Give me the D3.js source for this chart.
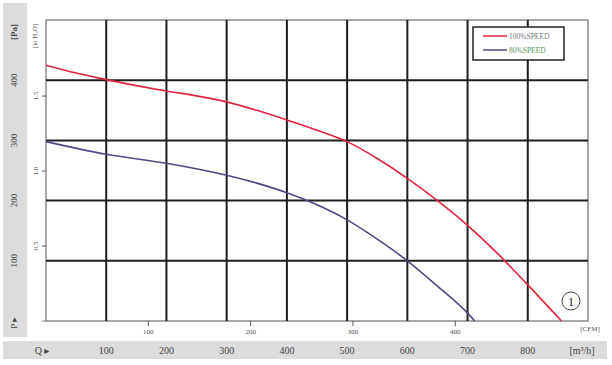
<!DOCTYPE html>
<html><head><meta charset="utf-8">
<script src="https://cdn.jsdelivr.net/npm/d3@7"></script>
<style>body{margin:0;background:#fff}svg{display:block}text{font-family:"Liberation Serif","DejaVu Serif",serif}</style>
</head><body><svg id="c" width="612" height="365"></svg>
<script>
const qTicks = [100,200,300,400,500,600,700,800];
const pTicks = [100,200,300,400];
const cfmTicks = [100,200,300,400];
const inchTicks = [0.5,1.0,1.5];
const q100 = [0,50,100,150,200,250,300,350,400,450,500,550,600,650,700,750,800,856];
const p100 = [425,412,401,391,382,374,364,350,334,317,298,270,237,200,159,112,60,0];
const q80 = [0,100,200,300,350,400,450,500,550,600,650,700,712];
const p80 = [298,277,262,242,229,213,193,168,136,100,58,13,0];
const seriesNames = ["100%SPEED","80%SPEED"];

const svg = d3.select("#c");
const x = d3.scaleLinear().domain([0,900]).range([46,588]);
const y = d3.scaleLinear().domain([0,500]).range([321,20]);
const M3H_PER_CFM = 1.699, PA_PER_INH2O = 249.1;

// gray bands
svg.append("rect").attr("x",3).attr("y",3).attr("width",24).attr("height",334).attr("fill","#dcdcdc");
svg.append("rect").attr("x",3).attr("y",341).attr("width",604).attr("height",18).attr("fill","#dcdcdc");

// plot border
svg.append("rect").attr("x",x(0)).attr("y",y(500)).attr("width",x(900)-x(0)).attr("height",y(0)-y(500))
  .attr("fill","#fff").attr("stroke","#8a8a8a").attr("stroke-width",1.5);

// grid
const g = svg.append("g");
g.selectAll(".vg").data(qTicks).join("line").attr("x1",d=>x(d)).attr("x2",d=>x(d)).attr("y1",y(500)).attr("y2",y(0))
  .attr("stroke","#1e1e1e").attr("stroke-width",2);
g.selectAll(".hg").data(pTicks).join("line").attr("y1",d=>y(d)).attr("y2",d=>y(d)).attr("x1",x(0)).attr("x2",x(900))
  .attr("stroke","#1e1e1e").attr("stroke-width",2);

// curves
const line = d3.line().x(d=>x(d[0])).y(d=>y(d[1])).curve(d3.curveMonotoneX);
svg.append("path").datum(q100.map((q,i)=>[q,p100[i]])).attr("d",line).attr("fill","none").attr("stroke","#e0243f").attr("stroke-width",1.6);
svg.append("path").datum(q80.map((q,i)=>[q,p80[i]])).attr("d",line).attr("fill","none").attr("stroke","#4d4a86").attr("stroke-width",1.6);

// Pa labels (rotated) in left band
const lab = svg.append("g").attr("font-size",9).attr("fill","#444");
pTicks.forEach(p=>{
  lab.append("text").attr("transform",`translate(17,${y(p)}) rotate(-90)`).attr("text-anchor","middle").text(p);
});
lab.append("text").attr("transform",`translate(17,32) rotate(-90)`).attr("text-anchor","middle").attr("font-weight","bold").text("[Pa]");
lab.append("text").attr("transform",`translate(17,323) rotate(-90)`).attr("text-anchor","middle").text("P ▸");

// inch H2O axis
const il = svg.append("g").attr("font-size",7).attr("fill","#555");
inchTicks.forEach(v=>{
  const yy = y(v*PA_PER_INH2O);
  il.append("line").attr("x1",42).attr("x2",46).attr("y1",yy).attr("y2",yy).attr("stroke","#555");
  il.append("text").attr("transform",`translate(38,${yy}) rotate(-90)`).attr("text-anchor","middle").text(d3.format(".1f")(v));
});
il.append("text").attr("transform",`translate(37,36) rotate(-90)`).attr("text-anchor","middle").text("[in H₂O]");
il.append("line").attr("x1",42).attr("x2",46).attr("y1",321).attr("y2",321).attr("stroke","#777");

// CFM axis
const cl = svg.append("g").attr("font-size",7).attr("fill","#555");
cfmTicks.forEach(v=>{
  const xx = x(v*M3H_PER_CFM);
  cl.append("line").attr("x1",xx).attr("x2",xx).attr("y1",321).attr("y2",326).attr("stroke","#555");
  cl.append("text").attr("x",xx).attr("y",334).attr("text-anchor","middle").text(v);
});
cl.append("text").attr("x",590).attr("y",331).attr("text-anchor","middle").text("[CFM]");

// Q labels bottom band
const ql = svg.append("g").attr("font-size",10).attr("fill","#444");
qTicks.forEach(v=>{
  ql.append("text").attr("x",x(v)).attr("y",354).attr("text-anchor","middle").text(v);
});
ql.append("text").attr("x",42).attr("y",354).attr("text-anchor","middle").text("Q ▸");
ql.append("text").attr("x",582).attr("y",354).attr("text-anchor","middle").text("[m³/h]");

// legend
const lg = svg.append("g");
lg.append("rect").attr("x",473).attr("y",27).attr("width",91).attr("height",33).attr("fill","#fff").attr("stroke","#222").attr("stroke-width",1.5);
const lc = ["#e0243f","#4d4a86"], tc = ["#777","#5e9a5e"];
seriesNames.forEach((n,i)=>{
  const yy = 36 + i*14;
  lg.append("line").attr("x1",483).attr("x2",507).attr("y1",yy).attr("y2",yy).attr("stroke",lc[i]).attr("stroke-width",1.5);
  lg.append("text").attr("x",509).attr("y",yy+2.5).attr("font-size",7.5).attr("fill",tc[i]).text(n);
});

// circled number
svg.append("circle").attr("cx",571).attr("cy",301).attr("r",9).attr("fill","#fff").attr("stroke","#444").attr("stroke-width",1);
svg.append("text").attr("x",571).attr("y",305.5).attr("text-anchor","middle").attr("font-size",13).attr("fill","#333").text("1");
</script></body></html>
